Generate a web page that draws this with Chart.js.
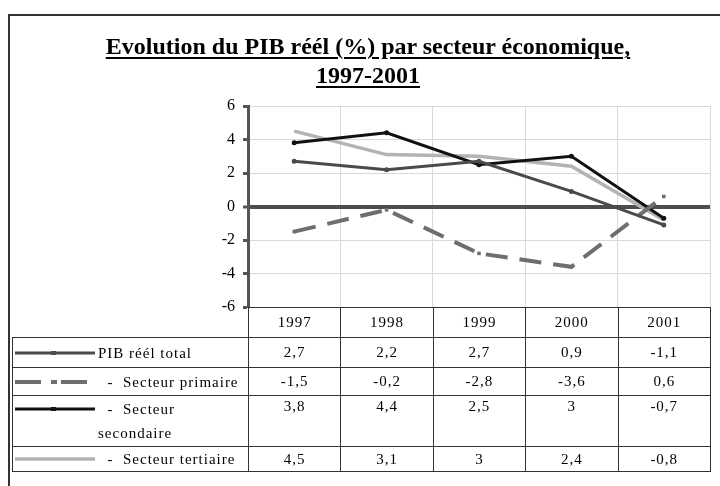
<!DOCTYPE html>
<html>
<head>
<meta charset="utf-8">
<script src="https://cdn.jsdelivr.net/npm/chart.js@4"></script>
<style>
  body { margin: 0; background: #fff; font-family: "Liberation Serif", "Times New Roman", serif; }
  #zone { position: relative; width: 720px; height: 486px; overflow: hidden; }
  #cadre { position: absolute; left: 8px; top: 14px; width: 730px; height: 480px;
           border-left: 2px solid #333; border-top: 2px solid #333; }
  #titre { position: absolute; left: 8px; width: 720px; top: 32px; text-align: center;
           font-weight: bold; font-size: 24px; line-height: 29px; color: #000; }
  #titre span { text-decoration: underline; text-decoration-thickness: 2px; text-underline-offset: 3px; }
  #graph { position: absolute; left: 0; top: 0; }
  #tableau { position: absolute; left: 12px; top: 307px; border-collapse: collapse; table-layout: fixed;
             font-size: 15px; letter-spacing: 1px; color: #000; }
  #tableau td { border: 1px solid #333; padding: 0; text-align: center; vertical-align: middle; }
  #tableau td.vide { border-top: none; border-left: none; }
  #tableau td.leg { text-align: left; }
  .leg div { display: flex; align-items: flex-start; }
  .leg svg { flex: none; margin: 0 3px 0 2px; }
  .leg span { white-space: pre-wrap; line-height: 24px; }
</style>
</head>
<body>
<div id="zone">
  <div id="cadre"></div>
  <canvas id="graph" width="720" height="486"></canvas>
  <div id="titre"><span>Evolution du PIB réél (%) par secteur économique,</span><br><span>1997-2001</span></div>
  <table id="tableau"></table>
</div>
<script>
const ANNEES = ['1997', '1998', '1999', '2000', '2001'];

const PIB_TOTAL   = [2.7, 2.2, 2.7, 0.9, -1.1];
const PRIMAIRE    = [-1.5, -0.2, -2.8, -3.6, 0.6];
const SECONDAIRE  = [3.8, 4.4, 2.5, 3, -0.7];
const TERTIAIRE   = [4.5, 3.1, 3, 2.4, -0.8];

const LIBELLES = ['PIB réél total', '  -  Secteur primaire', '  -  Secteur secondaire', '  -  Secteur tertiaire'];
const TICKS_Y = [-6, -4, -2, 0, 2, 4, 6];

const SERIES = [
  { data: PIB_TOTAL,  couleur: '#4a4a4a', epaisseur: 3,   tirets: [],       point: 2.5, forme: 'circle' },
  { data: PRIMAIRE,   couleur: '#6e6e6e', epaisseur: 4,   tirets: [22, 12], point: 2.5, forme: 'rect' },
  { data: SECONDAIRE, couleur: '#111111', epaisseur: 3,   tirets: [],       point: 2.5, forme: 'circle' },
  { data: TERTIAIRE,  couleur: '#b3b3b3', epaisseur: 3.5, tirets: [],       point: 0,   forme: 'circle' }
];

// hauteur des lignes du tableau (entête + séries)
const HAUTEURS = [30, 30, 28, 51, 25];

// ── Graphique ───────────────────────────────────────────────────────────────
new Chart(document.getElementById('graph'), {
  type: 'line',
  data: {
    labels: ANNEES,
    datasets: SERIES.map((s, i) => ({
      label: LIBELLES[i].trim(),
      data: s.data,
      borderColor: s.couleur,
      backgroundColor: s.couleur,
      borderWidth: s.epaisseur,
      borderDash: s.tirets,
      pointRadius: s.point,
      pointStyle: s.forme,
      pointBorderWidth: 0,
      pointBackgroundColor: s.couleur,
      tension: 0,
      fill: false
    }))
  },
  options: {
    responsive: false,
    animation: false,
    layout: { padding: { top: 106, right: 10, bottom: 179, left: 0 } },
    plugins: { legend: { display: false }, title: { display: false }, tooltip: { enabled: false } },
    scales: {
      x: {
        offset: true,
        ticks: { display: false },
        grid: { offset: true, color: '#d9d9d9', lineWidth: 1, drawTicks: false },
        border: { display: true, color: '#333', width: 1 },
        afterFit: s => { s.height = 0; }
      },
      y: {
        min: -6,
        max: 6,
        afterBuildTicks: s => { s.ticks = TICKS_Y.map(v => ({ value: v })); },
        ticks: {
          color: '#000',
          padding: 8,
          font: { family: '"Liberation Serif", "Times New Roman", serif', size: 16 }
        },
        grid: {
          color: c => c.tick && c.tick.value === 0 ? '#4d4d4d' : '#d9d9d9',
          lineWidth: c => c.tick && c.tick.value === 0 ? 4 : 1,
          tickLength: 5,
          tickColor: '#555',
          tickWidth: 3
        },
        border: { display: true, color: '#555', width: 3 },
        afterFit: s => { s.width = 248; }
      }
    }
  }
});

// ── Tableau de données ───────────────────────────────────────────────────────
function echantillon(s) {
  const tirets = s.tirets.length ? `stroke-dasharray="26 12 4 4"` : '';
  return `<svg width="80" height="24"><line x1="0" y1="12" x2="80" y2="12" stroke="${s.couleur}" stroke-width="${s.epaisseur}" ${tirets}/>` +
    (s.point ? `<rect x="36" y="10" width="5" height="4" fill="${s.couleur}"/>` : '') + `</svg>`;
}

const tab = document.getElementById('tableau');
let html = `<colgroup><col style="width:236px">${ANNEES.map(() => '<col style="width:92.4px">').join('')}</colgroup>`;
html += `<tr style="height:${HAUTEURS[0]}px"><td class="vide"></td>${ANNEES.map(a => `<td>${a}</td>`).join('')}</tr>`;
SERIES.forEach((s, i) => {
  const haut = i === 2;
  html += `<tr style="height:${HAUTEURS[i + 1]}px"><td class="leg"><div>${echantillon(s)}<span>${LIBELLES[i]}</span></div></td>` +
    s.data.map(v => `<td style="${haut ? 'vertical-align:top;padding-top:2px' : ''}">${String(v).replace('.', ',')}</td>`).join('') +
    `</tr>`;
});
tab.innerHTML = html;
</script>
</body>
</html>
